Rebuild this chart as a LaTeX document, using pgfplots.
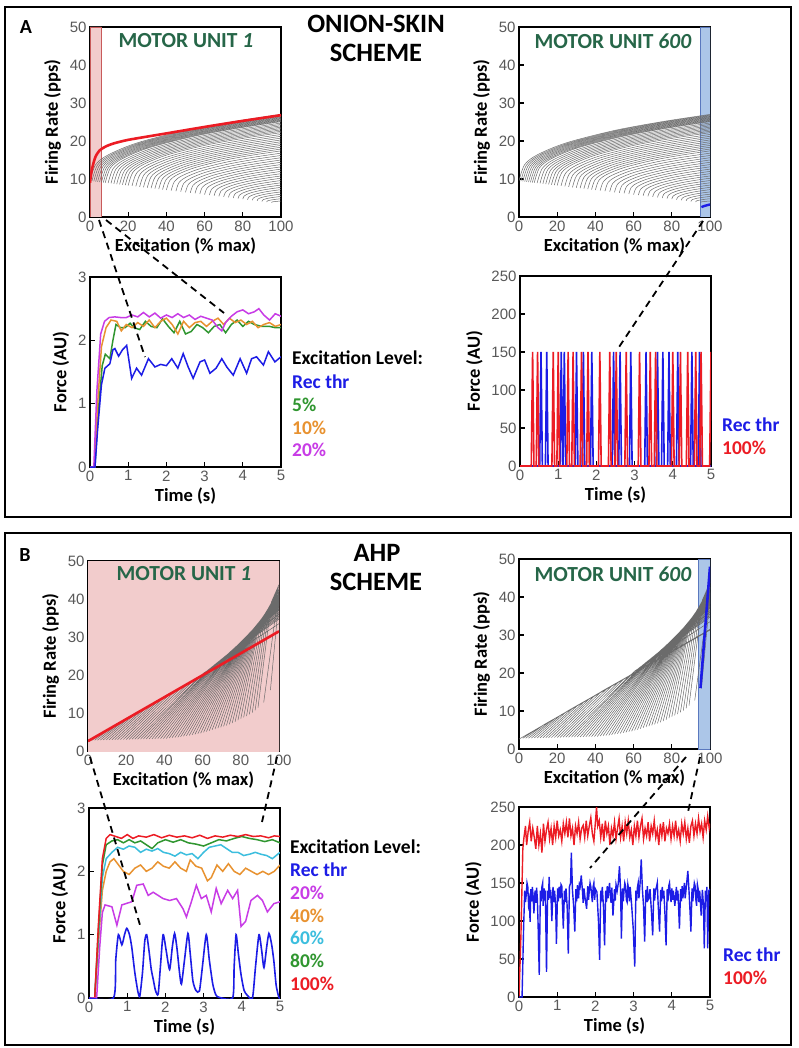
\documentclass[border=0pt]{standalone}
\usepackage{pgfplots}
\usepackage{pgfplotstable}
\pgfplotsset{compat=1.18}
\usepackage{fontspec}
\setmainfont{Carlito}
\newfontfamily\tickfamily{Liberation Sans}

\definecolor{cblue}{RGB}{28,28,230}
\definecolor{cred}{RGB}{236,28,36}
\definecolor{cgreen}{RGB}{48,150,48}
\definecolor{corange}{RGB}{232,146,48}
\definecolor{cmagenta}{RGB}{200,60,230}
\definecolor{ccyan}{RGB}{60,190,222}
\definecolor{mutitle}{RGB}{38,102,72}
\definecolor{bandpink}{RGB}{242,204,204}
\definecolor{bandred}{RGB}{200,90,90}
\definecolor{bandblue}{RGB}{172,198,232}
\definecolor{bandblueedge}{RGB}{90,120,190}

\newcommand\ticklabelfont{\tickfamily\fontsize{15}{15}\selectfont}
\newcommand\labelfont{\bfseries\fontsize{18.5}{18.5}\selectfont}
\newcommand\legfont{\bfseries\fontsize{19.5}{19.5}\selectfont}
\newcommand\titlefont{\bfseries\fontsize{26.5}{26.5}\selectfont}
\newcommand\mufont{\bfseries\fontsize{21.5}{21.5}\selectfont}

% onion-skin rate curves, one block per motor unit
\pgfplotstableread{
x y
0 9.5
3 13.81
10 16.47
25 19.55
50 22.77
75 25.09
100 27
nan nan
1 9.44
3.97 13.7
10.9 16.33
25.75 19.38
50.5 22.57
75.25 24.87
100 26.76
nan nan
2 9.38
4.94 13.6
11.8 16.2
26.5 19.22
51 22.37
75.5 24.65
100 26.52
nan nan
3 9.32
5.91 13.49
12.7 16.07
27.25 19.06
51.5 22.18
75.75 24.43
100 26.28
nan nan
4 9.26
6.88 13.39
13.6 15.94
28 18.89
52 21.98
76 24.21
100 26.04
nan nan
5 9.2
7.85 13.28
14.5 15.81
28.75 18.73
52.5 21.78
76.25 23.99
100 25.8
nan nan
6 9.14
8.82 13.18
15.4 15.68
29.5 18.57
53 21.59
76.5 23.77
100 25.56
nan nan
7 9.08
9.79 13.08
16.3 15.54
30.25 18.4
53.5 21.39
76.75 23.55
100 25.32
nan nan
8 9.02
10.76 12.97
17.2 15.41
31 18.24
54 21.19
77 23.33
100 25.08
nan nan
9.5 8.93
12.22 12.81
18.55 15.21
32.13 17.99
54.75 20.9
77.38 23.0
100 24.72
nan nan
11 8.84
13.67 12.66
19.9 15.02
33.25 17.75
55.5 20.6
77.75 22.67
100 24.36
nan nan
12.5 8.75
15.13 12.5
21.25 14.82
34.38 17.5
56.25 20.31
78.13 22.34
100 24
nan nan
14 8.66
16.58 12.35
22.6 14.62
35.5 17.26
57 20.01
78.5 22.01
100 23.64
nan nan
15.5 8.57
18.04 12.19
23.95 14.42
36.63 17.01
57.75 19.72
78.88 21.68
100 23.28
nan nan
17 8.48
19.49 12.03
25.3 14.23
37.75 16.77
58.5 19.43
79.25 21.35
100 22.92
nan nan
18.5 8.39
20.95 11.88
26.65 14.03
38.88 16.52
59.25 19.13
79.63 21.02
100 22.56
nan nan
20 8.3
22.4 11.72
28 13.83
40 16.28
60 18.84
80 20.68
100 22.2
nan nan
22 8.18
24.34 11.51
29.8 13.57
41.5 15.95
61 18.44
80.5 20.24
100 21.72
nan nan
24 8.06
26.28 11.3
31.6 13.31
43 15.63
62 18.05
81 19.8
100 21.24
nan nan
26 7.94
28.22 11.09
33.4 13.04
44.5 15.3
63 17.66
81.5 19.36
100 20.76
nan nan
28 7.82
30.16 10.89
35.2 12.78
46 14.97
64 17.26
82 18.92
100 20.28
nan nan
30 7.7
32.1 10.68
37 12.52
47.5 14.65
65 16.87
82.5 18.48
100 19.8
nan nan
32 7.58
34.04 10.47
38.8 12.25
49 14.32
66 16.48
83 18.04
100 19.32
nan nan
34 7.46
35.98 10.26
40.6 11.99
50.5 13.99
67 16.09
83.5 17.6
100 18.84
nan nan
36 7.34
37.92 10.05
42.4 11.73
52 13.67
68 15.69
84 17.16
100 18.36
nan nan
38 7.22
39.86 9.84
44.2 11.46
53.5 13.34
69 15.3
84.5 16.72
100 17.88
nan nan
40 7.1
41.8 9.63
46 11.2
55 13.01
70 14.91
85 16.28
100 17.4
nan nan
42.5 6.95
44.23 9.37
48.25 10.87
56.88 12.6
71.25 14.42
85.63 15.73
100 16.8
nan nan
45 6.8
46.65 9.11
50.5 10.54
58.75 12.2
72.5 13.93
86.25 15.18
100 16.2
nan nan
47.5 6.65
49.08 8.85
52.75 10.21
60.63 11.79
73.75 13.43
86.88 14.62
100 15.6
nan nan
50 6.5
51.5 8.59
55 9.88
62.5 11.38
75 12.94
87.5 14.07
100 15
nan nan
52.5 6.35
53.93 8.33
57.25 9.55
64.38 10.97
76.25 12.45
88.13 13.52
100 14.4
nan nan
55 6.2
56.35 8.07
59.5 9.22
66.25 10.56
77.5 11.96
88.75 12.97
100 13.8
nan nan
57.5 6.05
58.78 7.81
61.75 8.9
68.13 10.15
78.75 11.47
89.38 12.42
100 13.2
nan nan
60 5.9
61.2 7.55
64 8.57
70 9.75
80 10.98
90 11.87
100 12.6
nan nan
62.5 5.75
63.63 7.29
66.25 8.24
71.88 9.34
81.25 10.49
90.63 11.32
100 12
nan nan
65 5.6
66.05 7.03
68.5 7.91
73.75 8.93
82.5 10
91.25 10.77
100 11.4
nan nan
67.5 5.45
68.48 6.77
70.75 7.58
75.63 8.52
83.75 9.51
91.88 10.22
100 10.8
nan nan
70 5.3
70.9 6.51
73 7.25
77.5 8.11
85 9.01
92.5 9.67
100 10.2
nan nan
72.5 5.15
73.33 6.24
75.25 6.92
79.38 7.7
86.25 8.52
93.13 9.11
100 9.6
nan nan
75 5
75.75 5.98
77.5 6.59
81.25 7.3
87.5 8.03
93.75 8.56
100 9
nan nan
77.5 4.85
78.18 5.72
79.75 6.26
83.13 6.89
88.75 7.54
94.38 8.01
100 8.4
nan nan
80 4.7
80.6 5.46
82 5.93
85 6.48
90 7.05
95 7.46
100 7.8
nan nan
82.5 4.55
83.03 5.2
84.25 5.6
86.88 6.07
91.25 6.56
95.63 6.91
100 7.2
nan nan
85 4.4
85.45 4.94
86.5 5.28
88.75 5.66
92.5 6.07
96.25 6.36
100 6.6
nan nan
87.5 4.25
87.88 4.68
88.75 4.95
90.63 5.25
93.75 5.58
96.88 5.81
100 6.0
nan nan
90 4.1
90.3 4.42
91 4.62
92.5 4.85
95 5.09
97.5 5.26
100 5.4
nan nan
92.5 3.95
92.73 4.16
93.25 4.29
94.38 4.44
96.25 4.59
98.13 4.71
100 4.8
nan nan
95 3.8
95.15 3.9
95.5 3.96
96.25 4.03
97.5 4.1
98.75 4.16
100 4.2
}\onionfan

% AHP rate lines, one block per motor unit
\pgfplotstableread{
x y
0 2.6
100 31.5
nan nan
2 2.82
10 5.5
100 31.3
nan nan
3.5 2.84
13 6.4
100 31.3
nan nan
5 2.86
16 7.2
100 31.3
nan nan
6.5 2.88
19 8.1
100 31.3
nan nan
8 2.9
22 9.0
100 31.3
nan nan
9.5 2.91
25 9.9
100 31.3
nan nan
11 2.93
28 10.7
100 31.3
nan nan
12.5 2.95
31 11.6
100 31.3
nan nan
14 2.97
34 12.4
100 31.3
nan nan
15.5 2.99
37 13.3
100 31.3
nan nan
17 3.0
40 14.2
100 31.3
nan nan
18.5 3.02
43 15.1
100 31.3
nan nan
20 3.04
46 15.9
100 31.3
nan nan
21.5 3.06
49 16.8
100 31.3
nan nan
23 3.08
52 17.6
100 31.3
nan nan
24.5 3.09
55 18.5
100 31.3
nan nan
26 3.11
58 19.4
100 31.3
nan nan
27.5 3.13
60.5 20.5
100 33.5
nan nan
29 3.15
63 21.4
100 34.7
nan nan
30.5 3.17
64.5 22.0
100 35.1
nan nan
32 3.18
66 22.6
100 35.5
nan nan
33.5 3.2
67.5 23.2
100 35.9
nan nan
35 3.22
69 23.8
100 36.2
nan nan
36.5 3.24
70.5 24.4
100 36.6
nan nan
38 3.26
72 25.0
100 37.0
nan nan
39.5 3.28
73 25.4
100 37.2
nan nan
41 3.3
74 25.9
100 37.3
nan nan
42.5 3.4
75 26.3
100 37.5
nan nan
44 3.5
76 26.8
100 37.8
nan nan
45.5 3.55
77 27.2
100 38.0
nan nan
47 3.6
78 27.7
100 38.3
nan nan
48.5 3.75
79 28.2
100 38.4
nan nan
50 3.9
80 28.7
100 38.5
nan nan
51.5 4.0
80.5 28.95
100 38.6
nan nan
53 4.1
81 29.2
100 38.7
nan nan
54.5 4.25
81.5 29.45
100 38.9
nan nan
56 4.4
82 29.7
100 39.1
nan nan
57.5 4.55
82.5 29.95
100 39.1
nan nan
59 4.7
83 30.2
100 39.2
nan nan
60.5 4.9
83.5 30.45
100 39.2
nan nan
62 5.1
84 30.7
100 39.3
nan nan
63.5 5.35
84.5 30.95
100 39.4
nan nan
65 5.6
85 31.2
100 39.5
nan nan
66.5 5.8
85.5 31.5
100 39.6
nan nan
68 6.0
86 31.8
100 39.8
nan nan
69.5 6.25
86.5 32.1
100 39.85
nan nan
71 6.5
87 32.4
100 39.9
nan nan
72.5 6.75
87.5 32.7
100 40.0
nan nan
74 7.0
88 33.0
100 40.2
nan nan
75.5 7.35
88.5 33.3
100 40.4
nan nan
77 7.7
89 33.6
100 40.6
nan nan
78.5 8.1
89.5 33.9
100 40.8
nan nan
80 8.5
90 34.2
100 41.0
nan nan
81.5 8.85
91 34.9
100 41.3
nan nan
83 9.2
92 35.6
100 41.6
nan nan
84.5 9.65
93 36.4
100 42.1
nan nan
86 10.1
94 37.2
100 42.6
nan nan
87.5 10.7
95 38
100 43.2
nan nan
89 11.4
96 39.2
100 43.8
nan nan
92 12.8
100 42.5
nan nan
95.5 16
100 40
}\ahpfan

\pgfplotsset{
  panel/.style={
    scale only axis, width=191pt, height=190pt,
    anchor=north west,
    axis line style={line width=1.4pt},
    tick align=inside, tick pos=left,
    major tick length=5pt,
    tick style={line width=1.2pt, black},
    tick label style={font=\ticklabelfont, text=black!65},
    label style={font=\labelfont},
    /pgf/number format/assume math mode=true,
    ylabel style={yshift=2pt},
  },
  ratepanel/.style={panel, xmin=0, xmax=100, ymin=0, ymax=50,
    xtick={0,20,...,100}, ytick={0,10,...,50},
    xlabel={Excitation (\% max)}, ylabel={Firing Rate (pps)}},
  forcepanel/.style={panel, xmin=0, xmax=5, xtick={0,...,5},
    xlabel={Time (s)}, ylabel={Force (AU)}},
  fan/.style={black!58, line width=0.5pt, unbounded coords=jump},
}

\begin{document}
\begin{tikzpicture}
\useasboundingbox (0,0) rectangle (798pt,-1048pt);
\fill[white] (0,0) rectangle (798pt,-1048pt);

% ---------------- panel A ----------------
\begin{axis}[ratepanel, at={(90pt,-27pt)}]
\addplot[fill=bandpink, draw=bandred, line width=0.8pt] coordinates {(0,0) (6,0) (6,50) (0,50) (0,0)};
\addplot[fan, smooth, tension=0.5] table {\onionfan};
\addplot[cred, line width=2.6pt, smooth, tension=0.4] coordinates {(0,9) (0.5,11) (1,12.5) (2,14.5) (3,16) (5,17.5) (8,18.5) (12,19.3) (20,20.3) (40,22) (60,23.7) (80,25.3) (100,26.8)};
\end{axis}

\begin{axis}[ratepanel, at={(519pt,-27pt)}]
\addplot[fill=bandblue, draw=bandblueedge, line width=0.6pt] coordinates {(94.8,0) (100,0) (100,50) (94.8,50) (94.8,0)};
\addplot[fan, smooth, tension=0.5] table {\onionfan};
\addplot[cblue, line width=2.4pt] coordinates {(95.5,2.6) (97,2.9) (100,3.3)};
\end{axis}

\begin{axis}[forcepanel, at={(90pt,-277pt)}, ymin=0, ymax=3, ytick={0,1,2,3}]
\addplot[cgreen, line width=1.5pt] coordinates {(0,0) (0.13,0) (0.22,0.9) (0.32,1.6) (0.4,1.78) (0.52,1.71) (0.6,2.0) (0.68,2.25) (0.8,2.2) (0.92,2.2) (1.05,2.27) (1.15,2.2) (1.3,2.17) (1.45,2.3) (1.6,2.22) (1.75,2.2) (1.9,2.34) (2.05,2.22) (2.2,2.12) (2.35,2.3) (2.5,2.1) (2.65,2.14) (2.8,2.25) (2.95,2.2) (3.1,2.12) (3.25,2.22) (3.4,2.25) (3.55,2.12) (3.7,2.25) (3.85,2.32) (4.0,2.22) (4.15,2.3) (4.3,2.25) (4.5,2.22) (4.7,2.22) (4.85,2.2) (5,2.2)};
\addplot[corange, line width=1.5pt] coordinates {(0,0) (0.12,0) (0.2,1.0) (0.3,1.9) (0.42,2.2) (0.55,2.32) (0.7,2.3) (0.82,2.15) (0.95,2.25) (1.1,2.2) (1.25,2.28) (1.4,2.22) (1.55,2.32) (1.7,2.2) (1.85,2.3) (2.0,2.35) (2.15,2.25) (2.3,2.1) (2.45,2.3) (2.6,2.2) (2.75,2.28) (2.9,2.3) (3.05,2.22) (3.2,2.3) (3.35,2.35) (3.5,2.25) (3.65,2.35) (3.8,2.28) (3.95,2.32) (4.1,2.25) (4.25,2.3) (4.4,2.2) (4.55,2.25) (4.7,2.28) (4.85,2.22) (5,2.25)};
\addplot[cmagenta, line width=1.5pt] coordinates {(0,0) (0.1,0) (0.18,1.2) (0.28,2.1) (0.38,2.3) (0.5,2.36) (0.65,2.37) (0.8,2.36) (0.95,2.36) (1.1,2.4) (1.25,2.37) (1.4,2.44) (1.55,2.37) (1.7,2.43) (1.85,2.35) (2.0,2.4) (2.15,2.36) (2.3,2.42) (2.45,2.36) (2.6,2.4) (2.75,2.33) (2.9,2.38) (3.05,2.35) (3.2,2.32) (3.35,2.2) (3.45,2.15) (3.55,2.28) (3.7,2.38) (3.85,2.45) (4.0,2.48) (4.15,2.42) (4.3,2.45) (4.42,2.5) (4.55,2.4) (4.7,2.32) (4.85,2.42) (5,2.38)};
\addplot[cblue, line width=1.5pt] coordinates {(0,0) (0.13,0) (0.2,0.6) (0.3,1.3) (0.39,1.56) (0.52,1.63) (0.6,1.85) (0.65,1.87) (0.75,1.75) (0.85,1.85) (0.96,1.92) (1.09,1.4) (1.22,1.56) (1.35,1.45) (1.53,1.71) (1.7,1.58) (1.85,1.62) (2.0,1.6) (2.14,1.71) (2.3,1.56) (2.44,1.79) (2.57,1.58) (2.7,1.4) (2.88,1.66) (3.0,1.69) (3.14,1.48) (3.3,1.56) (3.45,1.71) (3.58,1.58) (3.75,1.45) (3.93,1.71) (4.1,1.48) (4.23,1.71) (4.36,1.74) (4.54,1.61) (4.67,1.82) (4.84,1.66) (5,1.74)};
\end{axis}

\begin{axis}[forcepanel, at={(520pt,-276pt)}, ymin=0, ymax=250, ytick={0,50,...,250}]
\addplot[cblue, line width=1.6pt] coordinates {(0,0) (0.515,0) (0.55,150) (0.585,0) (0.665,0) (0.7,150) (0.735,0) (1.045,0) (1.08,150) (1.115,0) (1.125,0) (1.16,150) (1.195,0) (1.445,0) (1.48,150) (1.515,0) (1.625,0) (1.66,150) (1.695,0) (1.845,0) (1.88,150) (1.915,0) (2.415,0) (2.45,150) (2.485,0) (2.585,0) (2.62,150) (2.655,0) (2.865,0) (2.9,150) (2.935,0) (3.265,0) (3.3,150) (3.335,0) (3.565,0) (3.6,150) (3.635,0) (3.705,0) (3.74,150) (3.775,0) (3.865,0) (3.9,150) (3.935,0) (4.095,0) (4.13,150) (4.165,0) (4.465,0) (4.5,150) (4.535,0) (4.665,0) (4.7,150) (4.735,0) (5,0)};
\addplot[cred, line width=1.6pt] coordinates {(0,0) (0.295,0) (0.33,150) (0.365,0) (0.425,0) (0.46,150) (0.495,0) (0.835,0) (0.87,150) (0.905,0) (0.965,0) (1.0,150) (1.035,0) (1.225,0) (1.26,150) (1.295,0) (1.355,0) (1.39,150) (1.425,0) (1.575,0) (1.61,150) (1.645,0) (1.745,0) (1.78,150) (1.815,0) (2.055,0) (2.09,150) (2.125,0) (2.315,0) (2.35,150) (2.385,0) (2.485,0) (2.52,150) (2.555,0) (2.745,0) (2.78,150) (2.815,0) (3.095,0) (3.13,150) (3.165,0) (3.375,0) (3.41,150) (3.445,0) (3.515,0) (3.55,150) (3.585,0) (3.965,0) (4.0,150) (4.035,0) (4.165,0) (4.2,150) (4.235,0) (4.355,0) (4.39,150) (4.425,0) (4.565,0) (4.6,150) (4.635,0) (4.705,0) (4.74,150) (4.775,0) (4.965,0) (5.0,150)};
\end{axis}

% ---------------- panel B ----------------
\begin{axis}[ratepanel, at={(88pt,-561pt)}]
\addplot[fill=bandpink, draw=bandpink] coordinates {(0,0) (100,0) (100,50) (0,50) (0,0)};
\addplot[fan] table {\ahpfan};
\addplot[cred, line width=2.6pt] coordinates {(0,2.6) (100,31.5)};
\end{axis}

\begin{axis}[ratepanel, at={(519pt,-559pt)}]
\addplot[fill=bandblue, draw=bandblueedge, line width=0.6pt] coordinates {(93.8,0) (100,0) (100,50) (93.8,50) (93.8,0)};
\addplot[fan] table {\ahpfan};
\addplot[cblue, line width=2.6pt] coordinates {(95,16) (100,48)};
\end{axis}

\begin{axis}[forcepanel, at={(89pt,-808pt)}, ymin=0, ymax=3, ytick={0,1,2,3}]
\addplot[corange, line width=1.5pt] coordinates {(0,0) (0.15,0) (0.25,0.9) (0.35,1.7) (0.45,2.0) (0.55,2.15) (0.65,2.2) (0.75,2.12) (0.9,2.0) (1.05,1.95) (1.2,2.05) (1.35,2.1) (1.5,2.0) (1.65,2.05) (1.8,2.15) (1.95,2.08) (2.1,2.05) (2.25,2.15) (2.4,2.05) (2.55,2.0) (2.65,2.18) (2.8,2.08) (2.95,2.05) (3.1,1.85) (3.2,1.9) (3.35,2.1) (3.5,2.0) (3.65,2.12) (3.8,2.0) (3.95,1.95) (4.1,2.05) (4.25,2.0) (4.4,1.95) (4.55,2.0) (4.7,1.95) (4.85,2.0) (5,2.1)};
\addplot[ccyan, line width=1.5pt] coordinates {(0,0) (0.15,0) (0.25,1.0) (0.35,1.9) (0.45,2.2) (0.6,2.3) (0.75,2.38) (0.9,2.35) (1.05,2.4) (1.2,2.38) (1.35,2.3) (1.5,2.35) (1.65,2.32) (1.8,2.36) (1.95,2.3) (2.1,2.28) (2.25,2.24) (2.4,2.3) (2.55,2.26) (2.7,2.28) (2.85,2.2) (3.0,2.3) (3.15,2.38) (3.3,2.4) (3.45,2.42) (3.6,2.36) (3.75,2.3) (3.9,2.3) (4.05,2.25) (4.2,2.27) (4.35,2.3) (4.5,2.27) (4.65,2.25) (4.8,2.2) (5,2.3)};
\addplot[cgreen, line width=1.5pt] coordinates {(0,0) (0.15,0) (0.25,1.1) (0.35,2.1) (0.45,2.42) (0.6,2.48) (0.75,2.5) (0.9,2.45) (1.05,2.5) (1.2,2.45) (1.35,2.48) (1.5,2.42) (1.65,2.36) (1.8,2.45) (2.0,2.5) (2.2,2.46) (2.4,2.5) (2.6,2.45) (2.8,2.43) (3.0,2.4) (3.2,2.45) (3.4,2.5) (3.6,2.48) (3.8,2.52) (4.0,2.55) (4.2,2.52) (4.4,2.5) (4.6,2.47) (4.8,2.5) (5,2.45)};
\addplot[cred, line width=1.5pt] coordinates {(0,0) (0.15,0) (0.25,1.2) (0.35,2.2) (0.45,2.52) (0.55,2.58) (0.7,2.55) (0.85,2.52) (1.0,2.58) (1.15,2.52) (1.3,2.56) (1.5,2.54) (1.7,2.58) (1.9,2.53) (2.1,2.57) (2.3,2.54) (2.5,2.56) (2.7,2.53) (2.9,2.57) (3.1,2.52) (3.3,2.56) (3.5,2.54) (3.7,2.57) (3.9,2.55) (4.1,2.58) (4.3,2.55) (4.5,2.56) (4.7,2.53) (4.85,2.56) (5,2.55)};
\addplot[cmagenta, line width=1.5pt] coordinates {(0,0) (0.2,0) (0.28,0.8) (0.35,1.35) (0.42,1.47) (0.6,1.44) (0.73,1.15) (0.86,1.47) (1.12,1.52) (1.25,1.78) (1.42,1.8) (1.55,1.62) (1.68,1.67) (1.94,1.57) (2.11,1.54) (2.29,1.57) (2.46,1.41) (2.55,1.28) (2.68,1.52) (2.81,1.78) (2.94,1.57) (3.07,1.62) (3.2,1.36) (3.33,1.73) (3.46,1.49) (3.63,1.7) (3.76,1.57) (3.89,1.7) (3.98,1.13) (4.1,1.21) (4.24,1.54) (4.41,1.62) (4.54,1.54) (4.67,1.36) (4.84,1.49) (5,1.52)};
\addplot[cblue, line width=1.6pt, smooth, tension=0.4] coordinates {(0,0) (0.64,0) (0.7,0.6) (0.77,1.0) (0.86,0.84) (0.93,1.0) (0.99,1.1) (1.06,1.0) (1.12,0.8) (1.2,0.4) (1.28,0.1) (1.33,0.03) (1.4,0.4) (1.46,0.9) (1.51,1.0) (1.57,0.75) (1.63,0.45) (1.68,0.3) (1.74,0.12) (1.81,0.06) (1.87,0.5) (1.94,1.0) (2.02,0.75) (2.11,0.45) (2.18,0.8) (2.24,1.02) (2.3,0.8) (2.37,0.4) (2.42,0.22) (2.5,0.6) (2.59,1.02) (2.65,0.7) (2.72,0.27) (2.8,0.12) (2.89,0.11) (2.97,0.5) (3.07,1.0) (3.15,0.6) (3.24,0.22) (3.32,0.05) (3.41,0.01) (3.76,0) (3.8,0.5) (3.85,1.0) (3.91,0.7) (3.98,0.37) (4.06,0.12) (4.15,0.04) (4.28,0) (4.36,0.5) (4.45,1.0) (4.52,0.75) (4.58,0.48) (4.65,0.8) (4.71,1.02) (4.78,0.85) (4.84,0.58) (4.9,0.2) (4.97,0.01) (5,0)};
\end{axis}

\begin{axis}[forcepanel, at={(519pt,-807pt)}, ymin=0, ymax=250, ytick={0,50,...,250}]
\addplot[cred, line width=1.4pt] coordinates {(0,0) (0.05,80) (0.1,195) (0.13,210) (0.17,225) (0.2,200) (0.24,218) (0.28,230) (0.32,205) (0.36,222) (0.4,210) (0.44,195) (0.48,225) (0.52,200) (0.56,215) (0.6,190) (0.64,228) (0.68,205) (0.72,220) (0.76,230) (0.8,208) (0.84,222) (0.88,200) (0.92,225) (0.96,210) (1.0,232) (1.04,212) (1.08,220) (1.12,205) (1.16,228) (1.2,215) (1.24,230) (1.28,210) (1.32,235) (1.36,212) (1.4,222) (1.44,200) (1.48,225) (1.52,215) (1.56,230) (1.6,208) (1.64,222) (1.68,226) (1.72,210) (1.76,232) (1.8,212) (1.84,225) (1.88,236) (1.92,215) (1.96,205) (2.0,230) (2.03,250) (2.06,225) (2.1,232) (2.14,210) (2.18,228) (2.22,205) (2.26,232) (2.3,215) (2.34,225) (2.38,200) (2.42,222) (2.46,212) (2.5,230) (2.54,208) (2.58,222) (2.62,235) (2.66,210) (2.7,225) (2.74,205) (2.78,230) (2.82,215) (2.86,232) (2.9,210) (2.94,220) (2.98,200) (3.02,225) (3.06,212) (3.1,232) (3.14,210) (3.18,225) (3.22,235) (3.26,208) (3.3,222) (3.34,212) (3.38,230) (3.42,205) (3.46,225) (3.5,215) (3.54,232) (3.58,210) (3.62,220) (3.66,200) (3.7,228) (3.74,212) (3.78,230) (3.82,205) (3.86,222) (3.9,215) (3.94,228) (3.98,208) (4.02,225) (4.06,212) (4.1,232) (4.14,210) (4.18,220) (4.22,205) (4.26,228) (4.3,215) (4.34,230) (4.38,208) (4.42,222) (4.46,203) (4.5,225) (4.54,232) (4.58,212) (4.62,228) (4.66,215) (4.7,235) (4.74,218) (4.78,228) (4.82,210) (4.86,232) (4.9,220) (4.94,238) (4.98,222) (5.0,228)};
\addplot[cblue, line width=1.4pt] coordinates {(0,0) (0.08,0) (0.12,90) (0.15,140) (0.17,125) (0.19,135) (0.21,150) (0.23,145) (0.25,122) (0.27,128) (0.29,99) (0.31,142) (0.33,126) (0.35,145) (0.37,132) (0.39,110) (0.42,140) (0.44,124) (0.46,144) (0.48,130) (0.5,95) (0.53,29) (0.56,140) (0.58,126) (0.6,145) (0.62,150) (0.63,120) (0.66,143) (0.68,127) (0.69,140) (0.72,33) (0.75,140) (0.77,128) (0.79,158) (0.81,130) (0.83,141) (0.86,100) (0.89,145) (0.91,125) (0.93,140) (0.96,120) (0.98,70) (1.01,143) (1.03,126) (1.05,145) (1.08,130) (1.1,148) (1.12,146) (1.16,90) (1.19,140) (1.21,125) (1.23,143) (1.26,120) (1.29,57) (1.32,145) (1.35,150) (1.37,190) (1.4,140) (1.43,120) (1.46,86) (1.49,142) (1.51,126) (1.53,147) (1.56,130) (1.58,148) (1.6,145) (1.63,160) (1.66,140) (1.68,124) (1.7,143) (1.73,130) (1.77,116) (1.8,146) (1.82,128) (1.84,140) (1.86,150) (1.88,145) (1.92,125) (1.94,145) (1.96,150) (1.98,128) (2.0,142) (2.04,138) (2.08,100) (2.11,49) (2.14,140) (2.16,126) (2.18,145) (2.21,120) (2.24,68) (2.27,140) (2.29,125) (2.31,146) (2.33,130) (2.35,140) (2.37,150) (2.39,135) (2.41,124) (2.43,144) (2.46,107) (2.5,142) (2.52,127) (2.54,148) (2.57,140) (2.6,150) (2.63,172) (2.66,140) (2.68,77) (2.71,143) (2.73,126) (2.75,140) (2.77,150) (2.79,146) (2.81,128) (2.83,125) (2.85,148) (2.87,142) (2.89,126) (2.91,145) (2.95,120) (2.99,90) (3.03,40) (3.06,140) (3.08,127) (3.1,144) (3.12,150) (3.14,130) (3.17,150) (3.2,181) (3.23,142) (3.26,120) (3.29,73) (3.32,141) (3.34,125) (3.36,146) (3.38,128) (3.4,130) (3.43,142) (3.47,110) (3.5,81) (3.53,143) (3.55,127) (3.57,140) (3.6,145) (3.62,150) (3.64,125) (3.68,86) (3.71,141) (3.73,126) (3.75,145) (3.77,130) (3.79,140) (3.82,110) (3.85,68) (3.88,142) (3.9,126) (3.92,146) (3.94,150) (3.96,135) (3.98,125) (4.0,143) (4.02,128) (4.04,140) (4.08,120) (4.12,145) (4.14,127) (4.16,140) (4.2,90) (4.23,142) (4.25,126) (4.27,146) (4.29,130) (4.31,140) (4.33,150) (4.35,130) (4.39,150) (4.42,166) (4.45,140) (4.48,110) (4.5,86) (4.53,143) (4.55,126) (4.57,140) (4.59,150) (4.61,146) (4.63,128) (4.65,120) (4.67,148) (4.69,142) (4.71,125) (4.73,140) (4.77,107) (4.8,141) (4.83,120) (4.85,64) (4.88,140) (4.9,126) (4.92,145) (4.94,64) (4.97,140) (5.0,142)};
\end{axis}

% ---------------- frames, titles, notes ----------------
\draw[line width=2.4pt] (5pt,-7pt) rectangle (791pt,-517pt);
\draw[line width=2.4pt] (5pt,-533pt) rectangle (791pt,-1045pt);

\node[font=\bfseries\fontsize{20}{20}\selectfont] at (26pt,-27pt) {A};
\node[font=\bfseries\fontsize{20}{20}\selectfont] at (25pt,-555pt) {B};
\node[font=\titlefont] at (376pt,-24pt) {ONION-SKIN};
\node[font=\titlefont] at (376pt,-53pt) {SCHEME};
\node[font=\titlefont] at (377pt,-553pt) {AHP};
\node[font=\titlefont] at (376pt,-582pt) {SCHEME};

\node[font=\mufont, text=mutitle] at (186pt,-41pt) {MOTOR UNIT \textit{1}};
\node[font=\mufont, text=mutitle] at (613pt,-41pt) {MOTOR UNIT \textit{600}};
\node[font=\mufont, text=mutitle] at (184pt,-574pt) {MOTOR UNIT \textit{1}};
\node[font=\mufont, text=mutitle] at (613pt,-574pt) {MOTOR UNIT \textit{600}};

\begin{scope}[every node/.style={anchor=west, font=\legfont, inner sep=0pt}]
\node at (292pt,-358pt) {Excitation  Level:};
\node[text=cblue] at (292pt,-382pt) {Rec thr};
\node[text=cgreen] at (292pt,-405pt) {5\%};
\node[text=corange] at (292pt,-428pt) {10\%};
\node[text=cmagenta] at (292pt,-450pt) {20\%};
\node[text=cblue] at (722pt,-425pt) {Rec thr};
\node[text=cred] at (722pt,-448pt) {100\%};
\node at (290pt,-847pt) {Excitation  Level:};
\node[text=cblue] at (290pt,-870pt) {Rec thr};
\node[text=cmagenta] at (290pt,-893pt) {20\%};
\node[text=corange] at (290pt,-916pt) {40\%};
\node[text=ccyan] at (290pt,-938pt) {60\%};
\node[text=cgreen] at (290pt,-961pt) {80\%};
\node[text=cred] at (290pt,-984pt) {100\%};
\node[text=cblue] at (723pt,-955pt) {Rec thr};
\node[text=cred] at (723pt,-978pt) {100\%};
\end{scope}

\begin{scope}[line width=1.8pt, dash pattern=on 7pt off 5pt]
\draw (99pt,-220pt) -- (145pt,-357pt);
\draw (106pt,-220pt) -- (224pt,-313pt);
\draw (703pt,-221pt) -- (617pt,-350pt);
\draw (90pt,-757pt) -- (140pt,-925pt);
\draw (277pt,-757pt) -- (262pt,-822pt);
\draw (686pt,-757pt) -- (590pt,-868pt);
\draw (700pt,-757pt) -- (688pt,-812pt);
\end{scope}
\end{tikzpicture}
\end{document}
